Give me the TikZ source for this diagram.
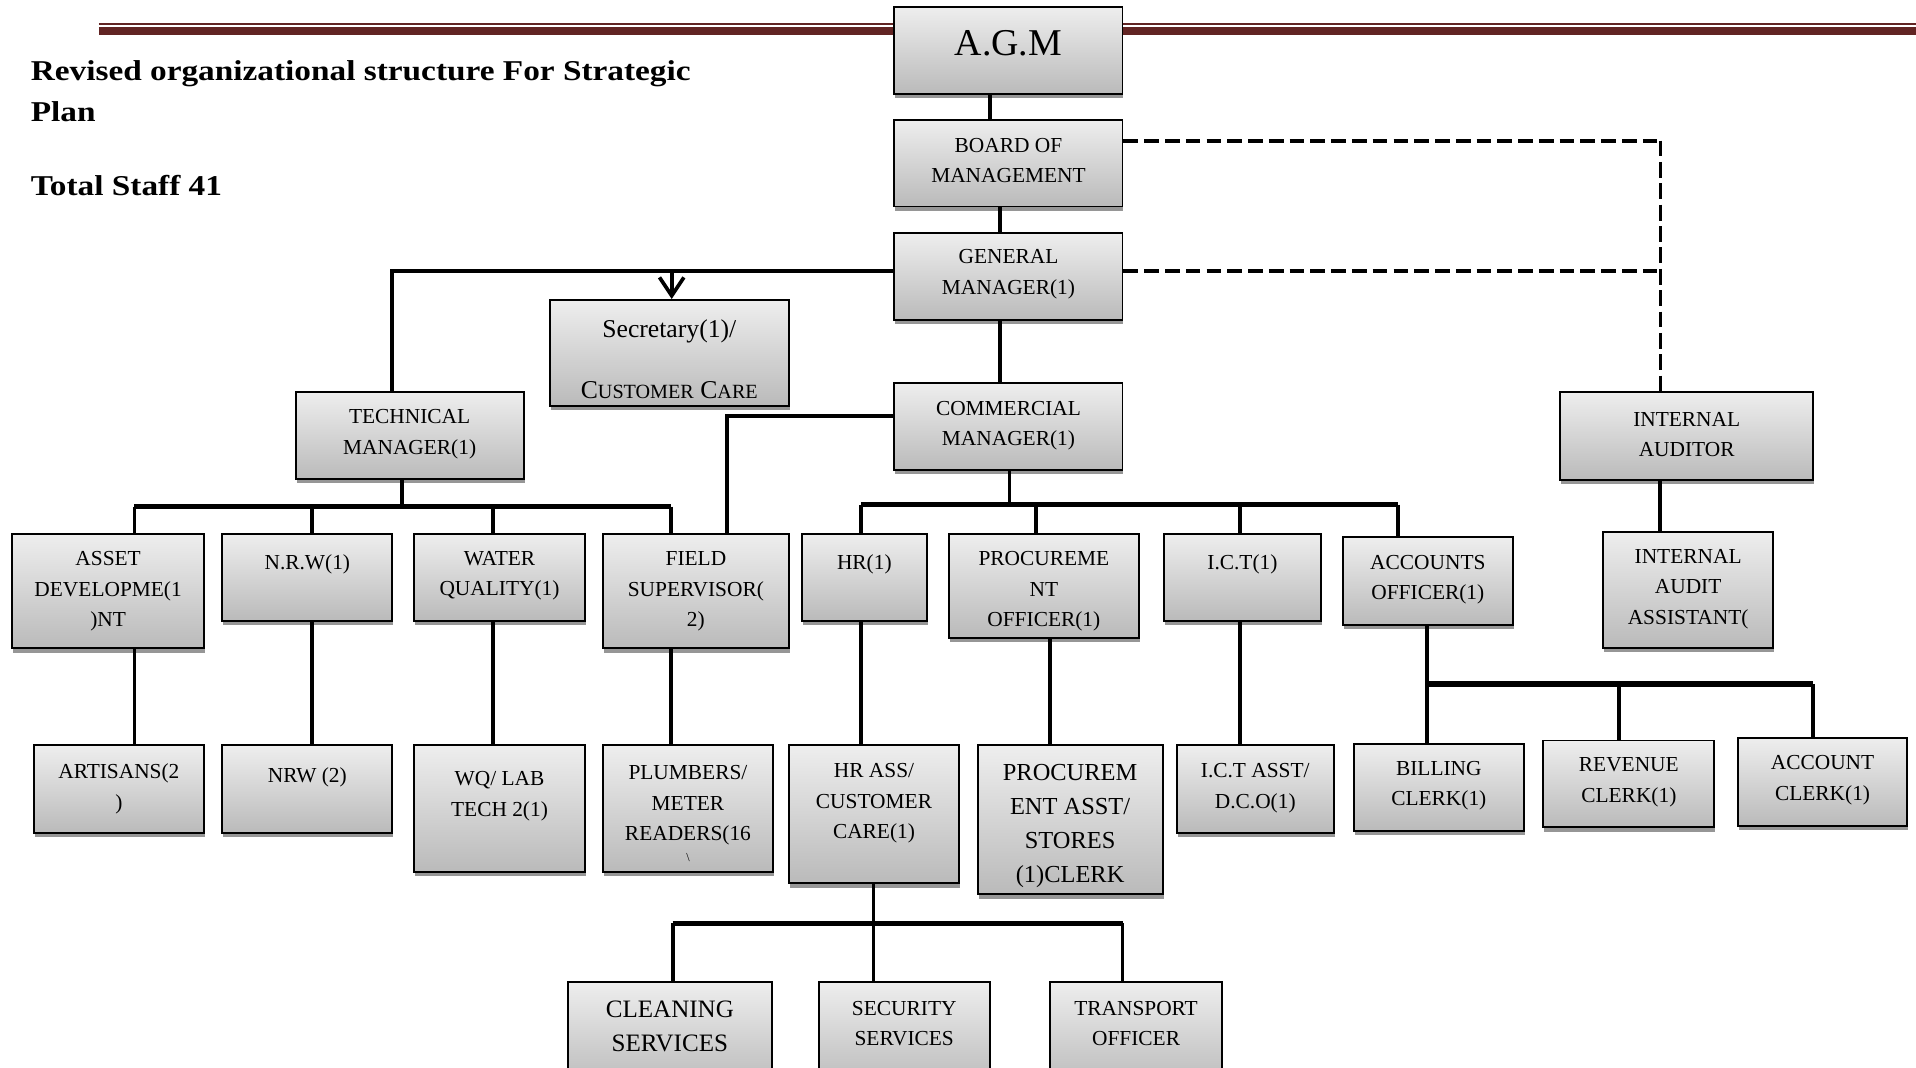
\documentclass[tikz,border=0pt]{standalone}
\usepackage{fontspec}
\setmainfont{Liberation Serif}
\newfontfamily\titlefont[FakeStretch=1.16]{Liberation Serif}
\usetikzlibrary{calc,shadows,arrows.meta}
\definecolor{hdr}{HTML}{622423}
\definecolor{boxtop}{RGB}{238,238,238}
\definecolor{boxbot}{RGB}{186,186,186}
\definecolor{shad}{RGB}{150,150,150}
\tikzset{
 obox/.style={rectangle, draw=black, line width=1.6pt, top color=boxtop, bottom color=boxbot, inner sep=0pt,
   drop shadow={shadow xshift=0.8pt, shadow yshift=-3.5pt, fill=shad, opacity=1}},
 btxt/.style={inner sep=0pt, align=center, yshift=-2pt, font=\fontsize{17.5}{25}\selectfont},
 conn/.style={line width=3pt, draw=black},
 bar/.style={line width=4.5pt, draw=black},
 dashh/.style={line width=3.3pt, draw=black, dash pattern=on 12pt off 5pt},
 dashv/.style={line width=2.6pt, draw=black, dash pattern=on 13pt off 4.5pt},
 ttl/.style={inner sep=0pt, anchor=base west, font=\titlefont\bfseries\fontsize{23.5}{30}\selectfont},
}
\newcommand\obox[8][]{%
  \node[obox, minimum width={(#5-#3)*1pt}, minimum height={(#6-#4)*1pt}] (#2) at ({(#3+#5)/2},{(#4+#6)/2}) {};
  \node[btxt,#1] (#2-t) at ({(#3+#5)/2},#7) {#8};
}
\newcommand\smc[1]{{\fontsize{16.5}{25}\selectfont #1}}
\begin{document}
\begin{tikzpicture}[x=1pt,y=-1pt]
\useasboundingbox (0,0) rectangle (1568,874);
\fill[white] (0,0) rectangle (1568,874);
\clip (0,0) rectangle (1568,874);

% header rule
\draw[hdr, line width=1.5pt] (81,19.9) -- (1568,19.9);
\draw[hdr, line width=6pt] (81,25.4) -- (1568,25.4);

% titles
\node[ttl] (title1) at (25,65.5) {Revised organizational structure For Strategic};
\node[ttl] (title2) at (25,99.6) {Plan};
\node[ttl] (staff) at (25,159.6) {Total Staff 41};

% boxes
\obox[font=\fontsize{31}{36}\selectfont, yshift=1pt]{agm}{732}{5.5}{918.6}{77}{34}{A.G.M}
\obox{bom}{732}{98}{918.6}{169}{129.5}{BOARD OF\\MANAGEMENT}
\obox{gm}{732}{191}{918.6}{262}{222.5}{GENERAL\\MANAGER(1)}
\obox[font=\fontsize{21}{25}\selectfont]{sec}{450}{245.5}{645.5}{332}{292}{Secretary(1)/\\[25pt]C\smc{USTOMER} C\smc{ARE}}
\obox{tm}{242}{321}{428.5}{392}{353.5}{TECHNICAL\\MANAGER(1)}
\obox{cm}{732}{313.7}{918.6}{384.7}{346.5}{COMMERCIAL\\MANAGER(1)}
\obox{ia}{1277}{321}{1483.7}{393}{353.5}{INTERNAL\\AUDITOR}

\obox{asset}{10}{437}{167}{530.6}{482}{ASSET\\DEVELOPME(1\\)NT}
\obox{nrw}{182}{437}{321}{508}{460}{N.R.W(1)}
\obox{wq}{339}{437}{478.6}{508}{469}{WATER\\QUALITY(1)}
\obox{fs}{493.5}{437}{645.5}{530.6}{482}{FIELD\\SUPERVISOR(\\2)}
\obox{hr}{656}{437}{758.7}{508}{460}{HR(1)}
\obox{proc}{776.5}{437}{932}{522}{482}{PROCUREME\\NT\\OFFICER(1)}
\obox{ict}{952.5}{437}{1081}{508}{460}{I.C.T(1)}
\obox{acc}{1099}{439.7}{1238}{511.5}{472.5}{ACCOUNTS\\OFFICER(1)}
\obox{iaa}{1312}{435}{1451}{530}{480}{INTERNAL\\AUDIT\\ASSISTANT(}

\obox{art}{27.6}{610}{167}{681.7}{643.5}{ARTISANS(2\\)}
\obox{nrwb}{182}{610}{321}{681.7}{634}{NRW (2)}
\obox{wql}{339}{610}{478.6}{713.6}{649.5}{WQ/ LAB\\TECH 2(1)}
\obox{plb}{493.5}{610}{632.5}{713.6}{664}{PLUMBERS/\\METER\\READERS(16\\[-8pt]{\fontsize{10}{12}\selectfont\textbackslash}}
\obox{hra}{645.5}{610}{785}{723}{655.5}{HR ASS/\\CUSTOMER\\CARE(1)}
\obox[font=\fontsize{20}{28}\selectfont]{pra}{800}{610}{951.5}{732}{674}{PROCUREM\\ENT ASST/\\STORES\\(1)CLERK}
\obox{icta}{963}{610}{1091.5}{681.5}{643}{I.C.T ASST/\\D.C.O(1)}
\obox{bil}{1108}{609}{1247}{680}{641}{BILLING\\CLERK(1)}
\obox{rev}{1263}{606}{1403}{677}{638}{REVENUE\\CLERK(1)}
\obox{accl}{1422}{604}{1561}{676}{636.5}{ACCOUNT\\CLERK(1)}

\obox[font=\fontsize{20.5}{28}\selectfont]{cln}{464.6}{803.4}{631.8}{890}{838}{CLEANING\\SERVICES}
\obox{secs}{670}{803.4}{810}{890}{835.5}{SECURITY\\SERVICES}
\obox{trn}{859.4}{803.4}{1000}{890}{835.5}{TRANSPORT\\OFFICER}

% junction coordinates
\coordinate (a1) at (810,90);
\coordinate (a2) at (818.6,180);
\coordinate (dcorner) at (1358.6,115);
\coordinate (gmline) at (549.7,222);
\coordinate (tmx) at (320.8,222);
\coordinate (cmx) at (595,340.5);
\coordinate (tbar) at (328.8,414.6);
\coordinate (tb1) at (110,414.6);
\coordinate (tb2) at (255.6,414.6);
\coordinate (tb3) at (403.4,414.6);
\coordinate (tb4) at (549.3,414.6);
\coordinate (cbar) at (826,413);
\coordinate (cb1) at (704.6,413);
\coordinate (cb2) at (847.7,413);
\coordinate (cb3) at (1015,413);
\coordinate (cb4) at (1144,413);
\coordinate (pv) at (859.5,560);
\coordinate (ab1) at (1168,559.8);
\coordinate (ab2) at (1325,559.8);
\coordinate (ab3) at (1483.5,559.8);
\coordinate (hb) at (714.9,755.6);
\coordinate (hb1) at (550.5,755.6);
\coordinate (hb3) at (918.7,755.6);

% top chain
\draw[conn] (a1 |- agm.south) -- (a1 |- bom.north);
\draw[conn] (a2 |- bom.south) -- (a2 |- gm.north);
\draw[conn] (a2 |- gm.south) -- (a2 |- cm.north);

% dashed links to internal auditor
\draw[dashh] (bom.east |- dcorner) -- (dcorner);
\draw[dashh] (gm.east |- gmline) -- (dcorner |- gmline);
\draw[dashv] (dcorner) -- (dcorner |- ia.north);
\draw[conn] (dcorner |- ia.south) -- (dcorner |- iaa.north);

% GM to technical manager and secretary
\draw[line width=3.6pt] (gm.west |- tmx) -- (tmx) -- (tmx |- tm.north);
\draw[conn, -{Straight Barb[length=15pt, width=20pt]}] (gmline) -- (gmline |- sec.north);

% commercial manager to field supervisor
\draw[line width=3.6pt] (cm.west |- cmx) -- (cmx) -- (cmx |- fs.north);

% technical branch
\draw[conn] (tbar |- tm.south) -- (tbar);
\draw[bar] (tb1) -- (tb4);
\draw[conn] (tb1) -- (tb1 |- asset.north);
\draw[conn] (tb2) -- (tb2 |- nrw.north);
\draw[conn] (tb3) -- (tb3 |- wq.north);
\draw[conn] (tb4) -- (tb4 |- fs.north);
\draw[conn] (tb1 |- asset.south) -- (tb1 |- art.north);
\draw[conn] (tb2 |- nrw.south) -- (tb2 |- nrwb.north);
\draw[conn] (tb3 |- wq.south) -- (tb3 |- wql.north);
\draw[conn] (tb4 |- fs.south) -- (tb4 |- plb.north);

% commercial branch
\draw[conn] (cbar |- cm.south) -- (cbar);
\draw[bar] (cb1) -- (cb4);
\draw[conn] (cb1) -- (cb1 |- hr.north);
\draw[conn] (cb2) -- (cb2 |- proc.north);
\draw[conn] (cb3) -- (cb3 |- ict.north);
\draw[conn] (cb4) -- (cb4 |- acc.north);
\draw[conn] (cb1 |- hr.south) -- (cb1 |- hra.north);
\draw[conn] (pv |- proc.south) -- (pv |- pra.north);
\draw[conn] (cb3 |- ict.south) -- (cb3 |- icta.north);

% accounts branch
\draw[conn] (ab1 |- acc.south) -- (ab1 |- bil.north);
\draw[bar] (ab1) -- (ab3);
\draw[conn] (ab2) -- (ab2 |- rev.north);
\draw[conn] (ab3) -- (ab3 |- accl.north);

% HR assistant branch
\draw[conn] (hb |- hra.south) -- (hb |- secs.north);
\draw[bar] (hb1) -- (hb3);
\draw[conn] (hb1) -- (hb1 |- cln.north);
\draw[conn] (hb3) -- (hb3 |- trn.north);
\end{tikzpicture}
\end{document}
